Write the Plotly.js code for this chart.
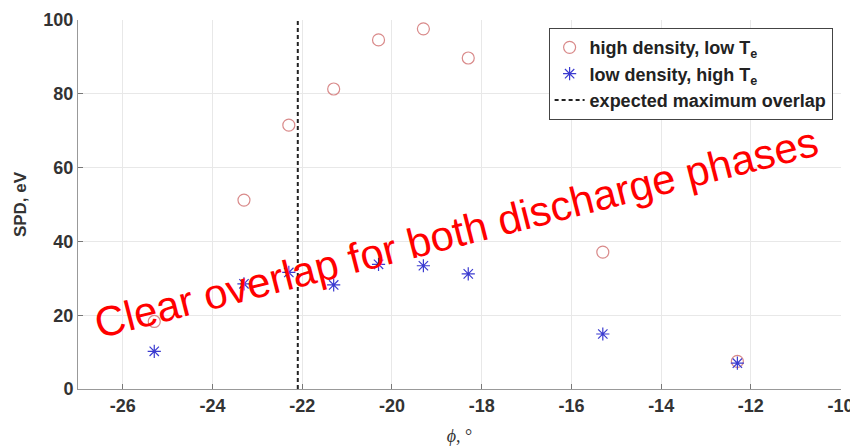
<!DOCTYPE html>
<html><head><meta charset="utf-8">
<script src="https://cdn.plot.ly/plotly-3.0.1.min.js"></script>
<style>html,body{margin:0;padding:0;background:#fff}#chart{width:850px;height:446px}</style>
</head><body><div id="chart"></div>
<script>
const phi = [-25.3, -23.3, -22.3, -21.3, -20.3, -19.3, -18.3, -15.3, -12.3];
const highDensity = [18.3, 51.2, 71.5, 81.3, 94.6, 97.6, 89.7, 37.1, 7.5];
const lowDensity = [10.2, 28.5, 31.6, 28.2, 33.8, 33.4, 31.2, 14.9, 7.0];
const overlapX = [-22.1, -22.1];
const overlapY = [0, 100];
const xTicks = [-26, -24, -22, -20, -18, -16, -14, -12, -10];
const yTicks = [0, 20, 40, 60, 80, 100];

const fam = 'Liberation Sans, Arial, sans-serif';

const traces = [
  {x: phi, y: highDensity, mode: 'markers', type: 'scatter', name: 'high density, low T<sub>e</sub>',
   marker: {symbol: 'circle-open', size: 12, color: '#d98a8a', line: {width: 1.2}}},
  {x: phi, y: lowDensity, mode: 'markers', type: 'scatter', name: 'low density, high T<sub>e</sub>',
   marker: {symbol: 'asterisk-open', size: 11, color: '#3b3bd0', line: {width: 1.2, color: '#3b3bd0'}}},
  {x: overlapX, y: overlapY, mode: 'lines', type: 'scatter', name: 'expected maximum overlap',
   line: {color: '#222', width: 2, dash: '4px,3px'}}
];

const layout = {
  width: 850, height: 446,
  margin: {l: 78, r: 9, t: 20, b: 57},
  paper_bgcolor: '#fff', plot_bgcolor: '#fff',
  font: {family: fam, size: 15, color: '#333'},
  showlegend: true,
  legend: {x: 0.989, y: 0.978, xanchor: 'right', yanchor: 'top', bgcolor: '#fff',
           bordercolor: '#444', borderwidth: 1, font: {family: fam, size: 18, color: '#222', weight: 'bold'},
           tracegroupgap: 0, itemwidth: 30},
  xaxis: {range: [-27, -9.99], tickvals: xTicks, ticktext: xTicks.map(String), showgrid: true, gridcolor: '#e8e8e8',
          showline: true, linecolor: '#999', linewidth: 1, ticks: 'inside', ticklen: 5, tickcolor: '#777',
          zeroline: false, ticklabeloverflow: 'allow',
          tickfont: {family: fam, size: 18, color: '#333', weight: 'bold'},
          title: {text: '<i>ϕ</i>, °', font: {family: 'Liberation Serif, serif', size: 18, color: '#333'}, standoff: 25}},
  yaxis: {range: [0, 100], tickvals: yTicks, showgrid: true, gridcolor: '#e8e8e8',
          showline: true, linecolor: '#999', linewidth: 1, ticks: 'inside', ticklen: 5, tickcolor: '#777',
          zeroline: false, tickfont: {family: fam, size: 18, color: '#333', weight: 'bold'},
          title: {text: 'SPD, eV', font: {family: fam, size: 17, color: '#333', weight: 'bold'}, standoff: 12}},
  annotations: [{
    text: 'Clear overlap for both discharge phases', xref: 'paper', yref: 'paper',
    x: (456 - 78) / 763, y: (389 - 233) / 369, xanchor: 'center', yanchor: 'middle',
    showarrow: false, textangle: -14.3,
    font: {family: fam, size: 42, color: '#ff0000', weight: 'normal'}
  }]
};

Plotly.newPlot('chart', traces, layout, {displayModeBar: false, staticPlot: true});
</script>
</body></html>
